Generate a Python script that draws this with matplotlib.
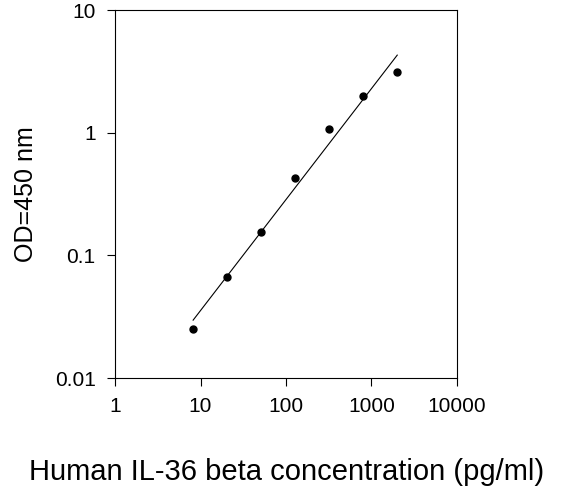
import numpy as np
import matplotlib.pyplot as plt
from matplotlib.ticker import FixedLocator, NullLocator

plt.rcParams['font.family'] = ['Liberation Sans', 'DejaVu Sans']

conc = [8.2, 20.5, 51.2, 128, 320, 800, 2000]
od = [0.025, 0.066, 0.155, 0.43, 1.07, 2.0, 3.1]
x_ticks = [1, 10, 100, 1000, 10000]
x_labels = ['1', '10', '100', '1000', '10000']
y_ticks = [0.01, 0.1, 1, 10]
y_labels = ['0.01', '0.1', '1', '10']

fig = plt.figure(figsize=(5.73, 4.95), dpi=100)
ax = fig.add_axes([115/573, 1-378/495, 342/573, 368/495])

# log-log linear fit
lx, ly = np.log10(conc), np.log10(od)
k, b = np.polyfit(lx, ly, 1)
fx = np.array([lx[0], lx[-1]])
ax.plot(10**fx, 10**(k*fx + b), color='black', lw=0.8)
ax.plot(conc, od, 'o', color='black', ms=5)

ax.set_xscale('log')
ax.set_yscale('log')
ax.set_xlim(1, 10000)
ax.set_ylim(0.01, 10)
ax.xaxis.set_major_locator(FixedLocator(x_ticks))
ax.yaxis.set_major_locator(FixedLocator(y_ticks))
ax.xaxis.set_minor_locator(NullLocator())
ax.yaxis.set_minor_locator(NullLocator())
ax.set_xticklabels(x_labels)
ax.set_yticklabels(y_labels)
ax.tick_params(direction='out', labelsize=15, length=6, pad=8)

ax.set_ylabel('OD=450 nm', fontsize=18, labelpad=12)
fig.text(0.5, 1-472/495, 'Human IL-36 beta concentration (pg/ml)',
         ha='center', va='center', fontsize=21)

fig.savefig('out.png', dpi=100)
